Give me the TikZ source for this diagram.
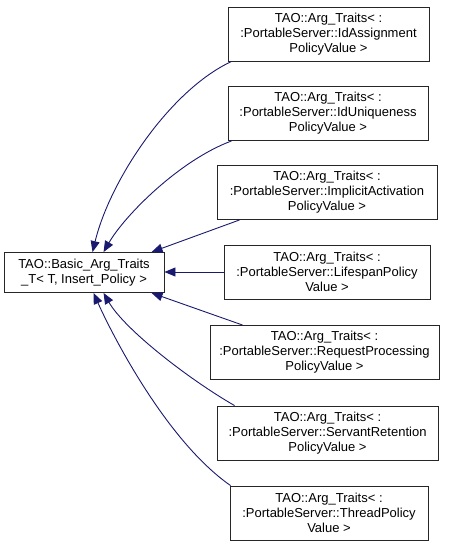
\documentclass[tikz,border=0pt]{standalone}
\usepackage{fontspec}
\setmainfont{Liberation Sans}
\usetikzlibrary{arrows.meta,calc}
\definecolor{edgeblue}{HTML}{191970}
\begin{document}
\begin{tikzpicture}[x=1pt,y=-1pt,
  box/.style={draw=black!85,line width=0.9pt,fill=white,align=center,inner sep=0pt,minimum height=54pt,font=\fontsize{13}{15}\selectfont},
  basebox/.style={box,minimum height=40pt},
  inh/.style={draw=edgeblue,line width=0.9pt,-{Triangle[length=11pt,width=9pt,fill=edgeblue]}}]
\useasboundingbox (0,0) rectangle (451,545);
\node[basebox,minimum width=160pt] (base) at (84,272.5) {TAO::Basic\_Arg\_Traits\\\_T< T, Insert\_Policy >};
\node[box,minimum width=201pt] (b1) at (328.5,34) {TAO::Arg\_Traits< :\\:PortableServer::IdAssignment\\PolicyValue >};
\node[box,minimum width=200pt] (b2) at (328,113.5) {TAO::Arg\_Traits< :\\:PortableServer::IdUniqueness\\PolicyValue >};
\node[box,minimum width=220pt] (b3) at (327,192.5) {TAO::Arg\_Traits< :\\:PortableServer::ImplicitActivation\\PolicyValue >};
\node[box,minimum width=206pt] (b4) at (327,272) {TAO::Arg\_Traits< :\\:PortableServer::LifespanPolicy\\Value >};
\node[box,minimum width=229pt] (b5) at (324.5,352.5) {TAO::Arg\_Traits< :\\:PortableServer::RequestProcessing\\PolicyValue >};
\node[box,minimum width=221pt] (b6) at (327.5,433) {TAO::Arg\_Traits< :\\:PortableServer::ServantRetention\\PolicyValue >};
\node[box,minimum width=198pt] (b7) at (329,513) {TAO::Arg\_Traits< :\\:PortableServer::ThreadPolicy\\Value >};
\draw[inh] ($(b1.south west)+(4,0)$) .. controls (170,90) and (110,180) .. ($(base.north west)+(89,0)$);
\draw[inh] ($(b2.south west)+(4,0)$) .. controls (180,160) and (125,215) .. ($(base.north west)+(100,0)$);
\draw[inh] ($(b3.south west)+(23,0)$) -- ($(base.north west)+(148,0)$);
\draw[inh] (b4.west) -- (base.east |- b4.west);
\draw[inh] ($(b5.north west)+(33,0)$) -- ($(base.south west)+(148,0)$);
\draw[inh] ($(b6.north west)+(18,0)$) .. controls (190,380) and (125,330) .. ($(base.south west)+(100,0)$);
\draw[inh] ($(b7.north west)+(1,0)$) .. controls (165,440) and (110,330) .. ($(base.south west)+(90,0)$);
\end{tikzpicture}
\end{document}
